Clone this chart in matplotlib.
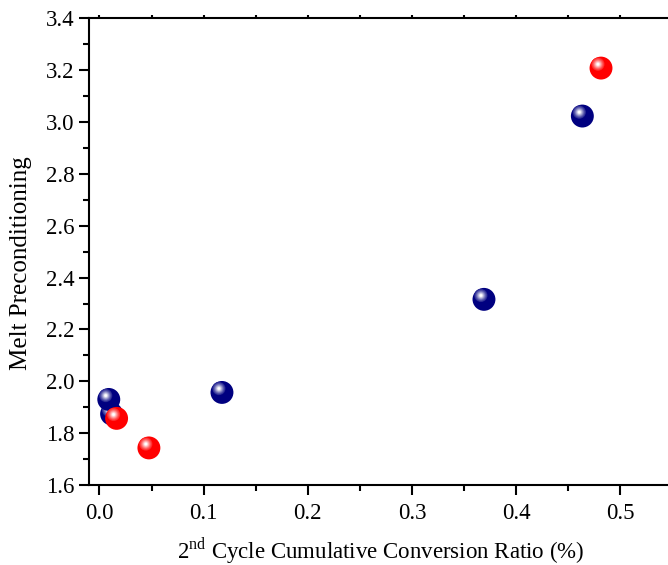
import matplotlib
matplotlib.use("Agg")
import matplotlib.pyplot as plt
import matplotlib.transforms as mtransforms
import numpy as np

plt.rcParams['font.family'] = ['Liberation Serif', 'DejaVu Serif']
plt.rcParams['mathtext.fontset'] = 'custom'
plt.rcParams['mathtext.rm'] = 'Liberation Serif'

# data
blue_x = [0.0117, 0.009, 0.1176, 0.369, 0.4634]
blue_y = [1.874, 1.930, 1.957, 2.316, 3.023]
red_x = [0.0165, 0.0475, 0.4813]
red_y = [1.857, 1.743, 3.208]

x_label = r'2$^{\mathrm{nd}}$ Cycle Cumulative Conversion Ratio (%)'
y_label = 'Melt Preconditioning'


def spheres(ax, xs, ys, base, z0, diam=16.5, nlayer=10):
    """fake glossy balls: base disc + soft whitish halo toward upper left"""
    base = np.array(matplotlib.colors.to_rgb(base))
    white = np.ones(3)
    hx, hy = -2.2, 2.8  # highlight offset (points)
    for i, (x, y) in enumerate(zip(xs, ys)):
        z = z0 + i
        ax.scatter([x], [y], s=diam ** 2, color=base, edgecolors='none', zorder=z)
        for k in range(nlayer + 1):
            t = k / nlayer
            d = 9.5 * (1 - t) + 1.8 * t
            w = 0.15 + 0.85 * t ** 1.2
            c = base * (1 - w) + white * w
            tr = mtransforms.offset_copy(ax.transData, fig=ax.figure,
                                         x=hx, y=hy, units='points')
            ax.scatter([x], [y], s=d ** 2, color=c, edgecolors='none',
                       transform=tr, zorder=z + (k + 1) * 0.01)


fig = plt.figure(figsize=(6.68, 5.65), dpi=100)
ax = fig.add_axes([0.1332, 0.1416, 0.8737, 0.826])

spheres(ax, blue_x, blue_y, '#000080', 10)
spheres(ax, red_x, red_y, '#ff0000', 20)

ax.set_xlim(-0.01, 0.55)
ax.set_ylim(1.6, 3.4)
ax.set_xticks(np.arange(0, 0.51, 0.1))
ax.set_xticks(np.arange(0, 0.56, 0.05), minor=True)
ax.set_yticks(np.arange(1.6, 3.41, 0.2))
ax.set_yticks(np.arange(1.6, 3.41, 0.1), minor=True)
ax.xaxis.set_major_formatter(matplotlib.ticker.FormatStrFormatter('%.1f'))
ax.yaxis.set_major_formatter(matplotlib.ticker.FormatStrFormatter('%.1f'))

for s in ax.spines.values():
    s.set_linewidth(1.5)
ax.spines['right'].set_visible(False)

ax.tick_params(which='both', direction='out', labelsize=16.5, width=1.5,
               top=True, right=False)
ax.tick_params(which='major', length=7)
ax.tick_params(which='minor', length=4)
ax.tick_params(axis='x', which='major', pad=6)

# the top ticks in the original are tiny marks
for t in ax.xaxis.get_major_ticks() + ax.xaxis.get_minor_ticks():
    t.tick2line.set_markersize(2)

ax.set_xlabel(x_label, fontsize=16.5, labelpad=8)
ax.set_ylabel(y_label, fontsize=18)
ax.yaxis.set_label_coords(-0.097, 0.475)

fig.savefig('out.png', dpi=100)
